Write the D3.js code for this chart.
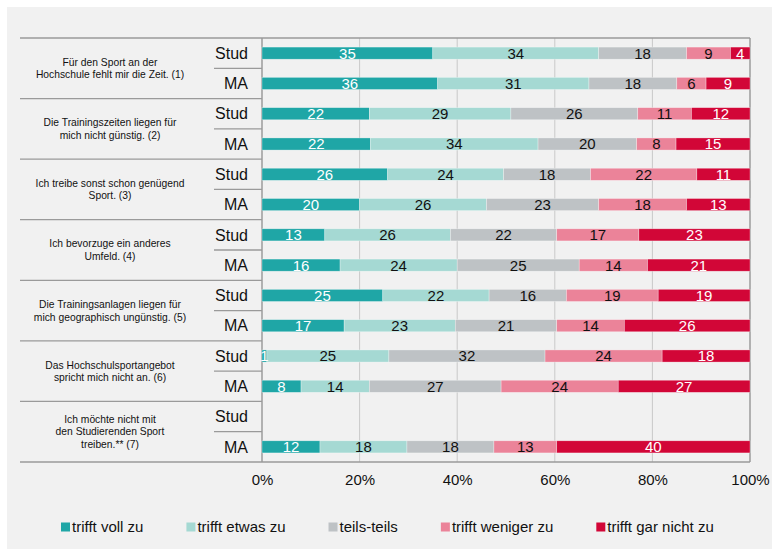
<!DOCTYPE html>
<html>
<head>
<meta charset="utf-8">
<script src="https://cdn.jsdelivr.net/npm/d3@7"></script>
<style>
  body { margin: 0; background: #fff; }
  text { font-family: "Liberation Sans", Arial, sans-serif; }
</style>
</head>
<body>
<svg id="chart" width="772" height="549"></svg>
<script>
// categories (each label split into its lines)
const categories = [
  ["Für den Sport an der", "Hochschule fehlt mir die Zeit. (1)"],
  ["Die Trainingszeiten liegen für", "mich nicht günstig. (2)"],
  ["Ich treibe sonst schon genügend", "Sport. (3)"],
  ["Ich bevorzuge ein anderes", "Umfeld. (4)"],
  ["Die Trainingsanlagen liegen für", "mich geographisch ungünstig. (5)"],
  ["Das Hochschulsportangebot", "spricht mich nicht an. (6)"],
  ["Ich möchte nicht mit", "den Studierenden Sport", "treiben.** (7)"]
];
const groups = ["Stud", "MA"];
const series = ["trifft voll zu", "trifft etwas zu", "teils-teils", "trifft weniger zu", "trifft gar nicht zu"];

// values per category, order = series
const studValues = [
  [35, 34, 18, 9, 4],
  [22, 29, 26, 11, 12],
  [26, 24, 18, 22, 11],
  [13, 26, 22, 17, 23],
  [25, 22, 16, 19, 19],
  [1, 25, 32, 24, 18],
  null
];
const maValues = [
  [36, 31, 18, 6, 9],
  [22, 34, 20, 8, 15],
  [20, 26, 23, 18, 13],
  [16, 24, 25, 14, 21],
  [17, 23, 21, 14, 26],
  [8, 14, 27, 24, 27],
  [12, 18, 18, 13, 40]
];
const xTicks = [0, 20, 40, 60, 80, 100];

const colors = ["#1fa6a6", "#a5d9d3", "#bec2c5", "#eb8399", "#d20637"];
const labelColors = ["#fff", "#111", "#111", "#111", "#fff"];

const svg = d3.select("#chart");
const FONT = "'Liberation Sans', Arial, sans-serif";

// panel background
svg.append("rect")
  .attr("x", 7).attr("y", 7)
  .attr("width", 765).attr("height", 542)
  .attr("fill", "#f1f1f1");

const margin = { top: 38, left: 262, right: 22, bottom: 87 };
const W = 772, H = 549;
const plotBottom = H - margin.bottom;

const x = d3.scaleLinear()
  .domain([0, 100])
  .range([margin.left, W - margin.right]);

const yGroup = d3.scaleBand()
  .domain(d3.range(categories.length))
  .range([margin.top, plotBottom]);

const yRow = d3.scaleBand()
  .domain(groups)
  .range([0, yGroup.bandwidth()])
  .paddingInner(0.6)
  .paddingOuter(0.3);

// build rows
const rows = [];
categories.forEach((c, i) => {
  [studValues[i], maValues[i]].forEach((vals, j) => {
    if (!vals) return;
    const total = d3.sum(vals);
    let acc = 0;
    vals.forEach((v, k) => {
      rows.push({ cat: i, grp: groups[j], k, v, x0: acc / total * 100, x1: (acc + v) / total * 100 });
      acc += v;
    });
  });
});

// vertical grid
svg.selectAll(".grid")
  .data(xTicks.slice(1, -1))
  .enter()
  .append("line")
  .attr("x1", d => x(d)).attr("x2", d => x(d))
  .attr("y1", margin.top).attr("y2", plotBottom)
  .attr("stroke", "#c9c9c9")
  .attr("stroke-width", 1);

// plot border right and left axis
svg.append("line")
  .attr("x1", x(100)).attr("x2", x(100))
  .attr("y1", margin.top).attr("y2", plotBottom)
  .attr("stroke", "#8f8f8f").attr("stroke-width", 1.3);
svg.append("line")
  .attr("x1", x(0)).attr("x2", x(0))
  .attr("y1", margin.top).attr("y2", plotBottom)
  .attr("stroke", "#8f8f8f").attr("stroke-width", 1.3);

// group separators (spanning labels and plot)
svg.selectAll(".gsep")
  .data(d3.range(categories.length + 1))
  .enter()
  .append("line")
  .attr("x1", 20)
  .attr("x2", (d) => (d === 0 || d === categories.length) ? x(100) : x(0))
  .attr("y1", d => margin.top + d * yGroup.bandwidth())
  .attr("y2", d => margin.top + d * yGroup.bandwidth())
  .attr("stroke", "#9a9a9a")
  .attr("stroke-width", 1.3);

// inner separators between Stud / MA
svg.selectAll(".isep")
  .data(d3.range(categories.length))
  .enter()
  .append("line")
  .attr("x1", 214).attr("x2", x(0))
  .attr("y1", d => yGroup(d) + yGroup.bandwidth() / 2)
  .attr("y2", d => yGroup(d) + yGroup.bandwidth() / 2)
  .attr("stroke", "#9a9a9a")
  .attr("stroke-width", 1.3);

// bars
svg.selectAll(".seg")
  .data(rows)
  .enter()
  .append("rect")
  .attr("x", d => x(d.x0))
  .attr("width", d => x(d.x1) - x(d.x0))
  .attr("y", d => yGroup(d.cat) + yRow(d.grp))
  .attr("height", yRow.bandwidth())
  .attr("fill", d => colors[d.k])
  .attr("stroke", "#ffffff")
  .attr("stroke-opacity", 0.5)
  .attr("stroke-width", 0.6);

// bar value labels
svg.selectAll(".val")
  .data(rows)
  .enter()
  .append("text")
  .attr("x", d => (x(d.x0) + x(d.x1)) / 2)
  .attr("y", d => yGroup(d.cat) + yRow(d.grp) + yRow.bandwidth() / 2)
  .attr("dy", "0.36em")
  .attr("text-anchor", "middle")
  .attr("font-size", 15)
  .attr("fill", d => labelColors[d.k])
  .text(d => d.v);

// Stud / MA labels
categories.forEach((c, i) => {
  groups.forEach(g => {
    svg.append("text")
      .attr("x", 248)
      .attr("y", yGroup(i) + yRow(g) + yRow.bandwidth() / 2)
      .attr("dy", "0.36em")
      .attr("text-anchor", "end")
      .attr("font-size", 16)
      .attr("fill", "#111")
      .text(g);
  });
});

// category labels
const catText = svg.selectAll(".cat")
  .data(categories)
  .enter()
  .append("text")
  .attr("text-anchor", "middle")
  .attr("font-size", 10.3)
  .attr("fill", "#111");

catText.each(function (lines, i) {
  const lh = 12.5;
  const cy = yGroup(i) + yGroup.bandwidth() / 2 - (lines.length - 1) * lh / 2;
  d3.select(this).selectAll("tspan")
    .data(lines)
    .enter()
    .append("tspan")
    .attr("x", 110)
    .attr("y", (d, j) => cy + j * lh)
    .attr("dy", "0.36em")
    .text(d => d);
});

// x axis
const xAxis = svg.append("g")
  .attr("transform", `translate(0, ${plotBottom})`)
  .call(d3.axisBottom(x).tickValues(xTicks).tickFormat(d => d + "%").tickSize(0).tickPadding(12));
xAxis.select(".domain").remove();
xAxis.selectAll("text")
  .attr("font-size", 15)
  .attr("font-family", FONT)
  .attr("fill", "#111");

// legend
const legend = svg.append("g").attr("transform", "translate(61, 527)");
let lx = 0;
series.forEach((s, k) => {
  const item = legend.append("g").attr("transform", `translate(${lx}, 0)`);
  item.append("rect")
    .attr("x", 0).attr("y", -4.5)
    .attr("width", 9).attr("height", 9)
    .attr("fill", colors[k]);
  const t = item.append("text")
    .attr("x", 11).attr("y", 0)
    .attr("dy", "0.36em")
    .attr("font-size", 15)
    .attr("fill", "#111")
    .text(s);
  lx += 11 + t.node().getComputedTextLength() + 43;
});
</script>
</body>
</html>
